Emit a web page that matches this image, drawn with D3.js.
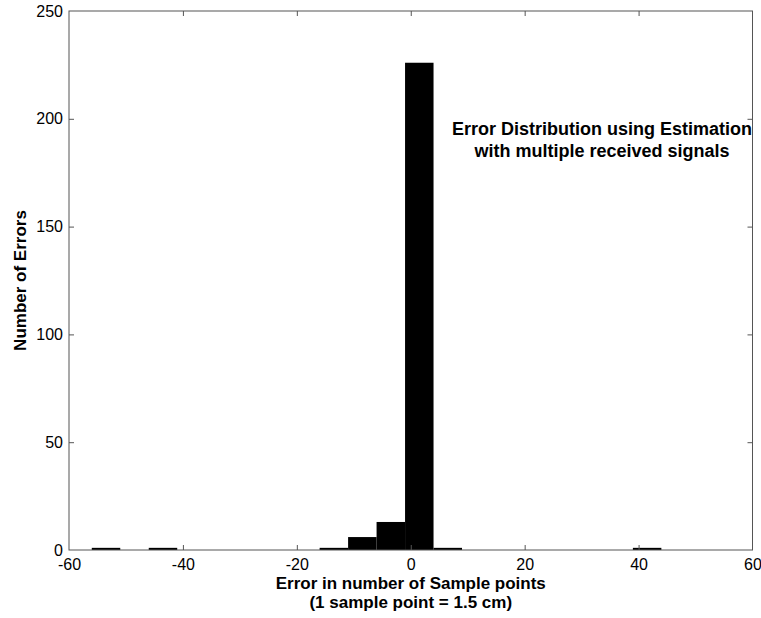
<!DOCTYPE html>
<html>
<head>
<meta charset="utf-8">
<script src="https://cdn.jsdelivr.net/npm/d3@7"></script>
<style>
  html, body { margin: 0; padding: 0; background: #fff; }
  svg { display: block; }
  text { font-family: "Liberation Sans", Arial, sans-serif; }
</style>
</head>
<body>
<svg id="chart" width="761" height="618"></svg>
<script>
// Data
const binCenters = [-53.5, -43.5, -13.5, -8.5, -3.5, 1.5, 6.5, 41.5];
const counts     = [1, 1, 1, 6, 13, 226, 1, 1];
const binWidth = 5;
const xTicks = [-60, -40, -20, 0, 20, 40, 60];
const yTicks = [0, 50, 100, 150, 200, 250];
const xLabelLines = ["Error in number of Sample points", "(1 sample point = 1.5 cm)"];
const yLabel = "Number of Errors";
const noteLines = ["Error Distribution using Estimation", "with multiple received signals"];

const svg = d3.select("#chart");
const L = 69, R = 752.5, T = 11, B = 550;

const x = d3.scaleLinear().domain([-60, 60]).range([L, R]);
const y = d3.scaleLinear().domain([0, 250]).range([B, T]);
const fmt = d => String(d); // plain hyphen for negatives, as in the reference

// bars
svg.append("g").selectAll("rect").data(binCenters).join("rect")
  .attr("x", (d) => x(d - binWidth / 2))
  .attr("width", (d) => x(d + binWidth / 2) - x(d - binWidth / 2))
  .attr("y", (d, i) => y(counts[i]))
  .attr("height", (d, i) => y(0) - y(counts[i]))
  .attr("fill", "#000");

const axisColor = "#555";
const tickLen = 5;

const gx = svg.append("g").attr("transform", `translate(0,${B})`)
  .call(d3.axisBottom(x).tickValues(xTicks).tickSize(-tickLen).tickPadding(9).tickFormat(fmt));
const gxt = svg.append("g").attr("transform", `translate(0,${T})`)
  .call(d3.axisTop(x).tickValues(xTicks).tickSize(-tickLen).tickFormat(""));
const gy = svg.append("g").attr("transform", `translate(${L},0)`)
  .call(d3.axisLeft(y).tickValues(yTicks).tickSize(-tickLen).tickPadding(6).tickFormat(fmt));
const gyr = svg.append("g").attr("transform", `translate(${R},0)`)
  .call(d3.axisRight(y).tickValues(yTicks).tickSize(-tickLen).tickFormat(""));

[gx, gxt, gy, gyr].forEach(g => {
  g.select(".domain").remove();
  g.selectAll(".tick line").attr("stroke", axisColor);
  g.selectAll("text").attr("fill", "#000").style("font-size", "16px")
    .style("font-family", '"Liberation Sans", Arial, sans-serif');
});
gx.selectAll(".tick line").filter(d => d === -60 || d === 60).remove();
gxt.selectAll(".tick line").filter(d => d === -60 || d === 60).remove();
gy.selectAll(".tick line").filter(d => d === 0 || d === 250).remove();
gyr.selectAll(".tick line").filter(d => d === 0 || d === 250).remove();

// box
svg.append("rect").attr("x", L).attr("y", T).attr("width", R - L).attr("height", B - T)
  .attr("fill", "none").attr("stroke", axisColor).attr("stroke-width", 1);

// x label
const xl = svg.append("text").attr("text-anchor", "middle")
  .style("font-size", "17px").style("font-weight", "bold");
xLabelLines.forEach((t, i) => {
  xl.append("tspan").attr("x", (L + R) / 2).attr("y", 589 + i * 19).text(t);
});

// y label
svg.append("text").attr("text-anchor", "middle")
  .attr("transform", `translate(26,${(T + B) / 2}) rotate(-90)`)
  .style("font-size", "17px").style("font-weight", "bold").text(yLabel);

// annotation
const nt = svg.append("text").attr("text-anchor", "middle")
  .style("font-size", "18px").style("font-weight", "bold");
noteLines.forEach((t, i) => {
  nt.append("tspan").attr("x", 602).attr("y", 135 + i * 22).text(t);
});
</script>
</body>
</html>
